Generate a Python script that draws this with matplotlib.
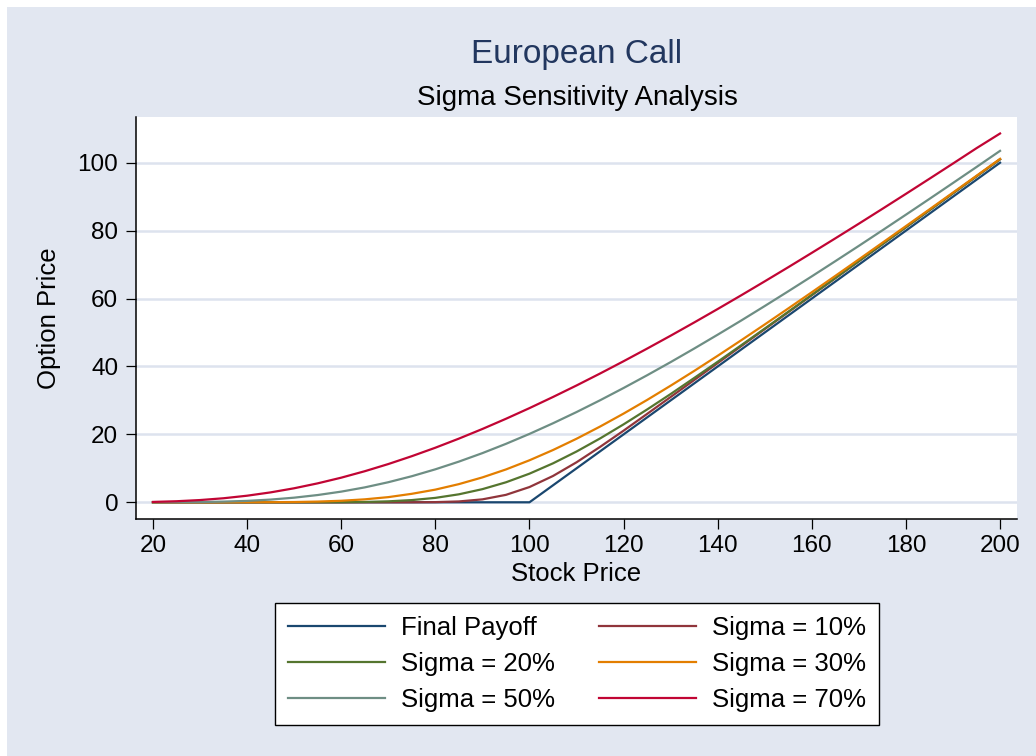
import matplotlib
matplotlib.use("Agg")
import matplotlib.pyplot as plt
from matplotlib.patches import Rectangle

plt.rcParams['font.family'] = ['Liberation Sans', 'DejaVu Sans']

# ---- data ----
stock_price = [20, 25, 30, 35, 40, 45, 50, 55, 60, 65, 70, 75, 80, 85, 90, 95,
               100, 105, 110, 115, 120, 125, 130, 135, 140, 145, 150, 155, 160,
               165, 170, 175, 180, 185, 190, 195, 200]

final_payoff = [0, 0, 0, 0, 0, 0, 0, 0, 0, 0, 0, 0, 0, 0, 0, 0,
                0, 5, 10, 15, 20, 25, 30, 35, 40, 45, 50, 55, 60,
                65, 70, 75, 80, 85, 90, 95, 100]

sigma_10 = [0, 0, 0, 0, 0, 0, 0, 0, 0, 0, 0, 0, 0.05, 0.25, 0.86, 2.19,
            4.49, 7.75, 11.78, 16.31, 21.09, 26.03, 31.01, 36.00, 41.00, 46.00,
            51.00, 56.00, 61.00, 66.00, 71.00, 76.00, 81.00, 86.00, 91.00,
            96.00, 101.00]

sigma_20 = [0, 0, 0, 0, 0, 0, 0, 0.01, 0.03, 0.10, 0.28, 0.65, 1.30, 2.35,
            3.87, 5.89, 8.43, 11.47, 14.95, 18.80, 22.95, 27.33, 31.88, 36.60,
            41.39, 46.25, 51.16, 56.10, 61.07, 66.03, 71.02, 76.01, 81.01,
            86.00, 91.00, 96.00, 101.00]

sigma_30 = [0, 0, 0, 0, 0.01, 0.03, 0.08, 0.21, 0.45, 0.87, 1.52, 2.50, 3.73,
            5.35, 7.33, 9.67, 12.37, 15.39, 18.71, 22.30, 26.12, 30.14, 34.34,
            38.68, 43.15, 47.72, 52.37, 57.09, 61.86, 66.68, 71.54, 76.43,
            81.34, 86.26, 91.21, 96.16, 101.13]

sigma_50 = [0.00, 0.02, 0.07, 0.20, 0.42, 0.80, 1.36, 2.14, 3.14, 4.39, 5.91,
            7.68, 9.71, 11.98, 14.48, 17.21, 20.14, 23.27, 26.57, 30.04, 33.66,
            37.41, 41.28, 45.27, 49.36, 53.53, 57.80, 62.14, 66.54, 71.01,
            75.52, 80.09, 84.70, 89.35, 94.03, 98.74, 103.49]

sigma_70 = [0.11, 0.31, 0.66, 1.19, 1.94, 2.92, 4.13, 5.58, 7.25, 9.15, 11.26,
            13.58, 16.07, 18.75, 21.59, 24.59, 27.73, 31.01, 34.40, 37.92,
            41.54, 45.26, 49.06, 52.95, 56.92, 60.96, 65.07, 69.23, 73.46,
            77.73, 82.05, 86.42, 90.83, 95.28, 99.76, 104.28, 108.6]

series_labels = ["Final Payoff", "Sigma = 10%", "Sigma = 20%",
                 "Sigma = 30%", "Sigma = 50%", "Sigma = 70%"]
x_ticks = [20, 40, 60, 80, 100, 120, 140, 160, 180, 200]
y_ticks = [0, 20, 40, 60, 80, 100]

# ---- style ----
colors = ["#1a476f", "#90353b", "#55752f", "#e37e00", "#6e8e84", "#c10534"]
bg = "#e2e7f1"
grid_c = "#dde3ee"

W, H = 1036, 756
fig = plt.figure(figsize=(W / 100, H / 100), dpi=100, facecolor="white")
fig.add_artist(Rectangle((7 / W, 0), 1 - 7 / W, 1 - 7 / H,
                         transform=fig.transFigure, facecolor=bg,
                         edgecolor="none", zorder=-10))

left, right, top, bottom = 136, 1017, 117, 519
ax = fig.add_axes([left / W, 1 - bottom / H, (right - left) / W, (bottom - top) / H])
ax.set_facecolor("white")

series = [final_payoff, sigma_10, sigma_20, sigma_30, sigma_50, sigma_70]
handles = []
for vals, lab, c in zip(series, series_labels, colors):
    h, = ax.plot(stock_price, vals, color=c, lw=1.6, label=lab,
                 solid_joinstyle="round", zorder=3)
    handles.append(h)

ax.set_xlim(16.39, 203.6)
ax.set_ylim(-4.92, 113.46)
ax.set_xticks(x_ticks)
ax.set_yticks(y_ticks)
ax.set_yticklabels([str(v) for v in y_ticks])
ax.yaxis.grid(True, color=grid_c, lw=1.8, zorder=0)
ax.set_axisbelow(True)

for s in ["top", "right"]:
    ax.spines[s].set_visible(False)
for s in ["left", "bottom"]:
    ax.spines[s].set_color("black")
    ax.spines[s].set_linewidth(1.1)

ax.tick_params(axis="both", direction="out", length=7.2, width=0.9,
               colors="black", labelsize=17.5)
ax.tick_params(axis="y", pad=5.5)
ax.tick_params(axis="x", pad=4.5)

ax.set_xlabel("Stock Price", fontsize=18.5, va="center")
ax.xaxis.set_label_coords(0.5, -(574 - bottom) / (bottom - top))
ax.set_ylabel("Option Price", fontsize=18.5, va="center")
ax.yaxis.set_label_coords(-(left - 49) / (right - left), 0.5)

fig.text(577 / W, 1 - 63.3 / H, "European Call", fontsize=24,
         color="#22375f", ha="center", va="baseline")
fig.text(577 / W, 1 - 105 / H, "Sigma Sensitivity Analysis", fontsize=20,
         color="black", ha="center", va="baseline")

order = [0, 2, 4, 1, 3, 5]
leg = fig.legend([handles[i] for i in order], [series_labels[i] for i in order],
                 ncol=2, loc="upper center", bbox_to_anchor=(577 / W, 1 - 603 / H),
                 fontsize=18.5, frameon=True, fancybox=False, framealpha=1,
                 edgecolor="black", facecolor="white",
                 handlelength=3.8, handletextpad=0.62, columnspacing=1.7,
                 labelspacing=0.475, borderpad=0.5, borderaxespad=0)
leg.get_frame().set_linewidth(1.0)

fig.savefig("out.png", dpi=100, facecolor="white")
